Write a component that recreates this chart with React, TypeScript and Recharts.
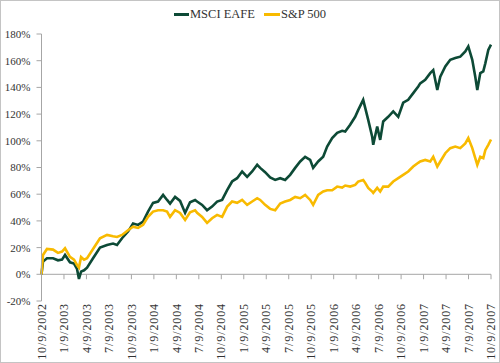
import React from 'react';
import { LineChart, Line, XAxis, YAxis, ReferenceLine, Legend } from 'recharts';

// months since 10/9/2002
const months = [0, 0.2, 0.73, 1.54, 2.2, 2.74, 3.14, 3.8, 4.34, 4.74, 5.0, 5.28, 5.68, 6.08, 6.88, 7.81, 8.75, 9.55, 10.08, 10.75, 11.55, 12.22, 12.89, 13.56, 14.22, 14.89, 15.56, 16.23, 16.76, 17.16, 17.83, 18.5, 19.17, 19.83, 20.5, 20.77, 21.44, 22.1, 22.77, 23.44, 24.11, 24.78, 25.44, 26.11, 26.78, 27.45, 28.12, 28.79, 29.19, 29.85, 30.52, 31.19, 31.86, 32.52, 33.19, 33.86, 34.53, 35.19, 35.86, 36.26, 36.93, 37.6, 38.13, 38.8, 39.47, 40.13, 40.54, 41.2, 41.87, 42.27, 42.94, 43.21, 43.61, 44.14, 44.28, 44.81, 45.21, 45.61, 46.28, 46.95, 47.62, 48.28, 48.95, 49.62, 50.29, 50.55, 51.22, 51.89, 52.29, 52.83, 53.23, 53.9, 54.56, 55.23, 55.9, 56.57, 56.97, 57.5, 57.9, 58.17, 58.57, 58.97, 59.24, 59.64, 60];
const eafe = [0, 9.5, 12, 12, 10.5, 11, 14.5, 9, 8, 4, -3.5, 2, 3, 5, 12, 20, 22, 23, 22, 27, 32, 38, 37, 39.5, 47, 53.5, 54.5, 59.5, 55.7, 53, 58, 55, 46, 54, 55.7, 54.5, 52, 48, 50.7, 54.5, 55.7, 63, 69.5, 72, 77, 73, 77, 82, 79.7, 76.5, 72.5, 70.7, 72, 70.7, 74.5, 79.7, 84.5, 88, 85.7, 79.7, 84.5, 88, 95.7, 102, 106, 107.5, 107, 112, 118, 123, 130.7, 124.7, 115.7, 103, 97, 110.7, 100.7, 114.5, 118, 122, 118, 128.5, 130.7, 135.7, 140.7, 143, 145.7, 150.7, 153, 138, 148, 155.7, 160.7, 162, 163, 167, 170.7, 160.7, 148, 138, 150.7, 152, 158, 168, 172];
const sp500 = [0, 14.5, 19, 18.5, 16, 17, 19.5, 13, 11, 7, 5, 13, 11, 12, 19, 27, 29.5, 28.5, 28, 29.5, 33, 35.7, 34.7, 37, 43, 47, 48, 48, 47, 43, 48, 46, 40.7, 46.5, 48, 46, 43, 38.5, 42, 44.5, 43, 50.7, 54.5, 53.5, 55.7, 52, 54.5, 57, 55.7, 52, 49, 48, 53, 54.5, 55.7, 58, 57, 59.5, 55.7, 52, 59.5, 62, 63, 63, 65.7, 65, 66.5, 65.7, 67, 69.5, 70.7, 68.5, 64.7, 62, 61, 64.7, 62, 65.7, 65.7, 69.5, 72, 74.5, 77, 80.7, 83.5, 84.5, 85.7, 84.5, 88, 80.7, 84.5, 90.7, 94.5, 95.7, 94.5, 98, 102, 94.5, 87, 82, 88, 87, 93, 97, 101];

const tickMonths = [0, 3, 6, 9, 12, 15, 18, 21, 24, 27, 30, 33, 36, 39, 42, 45, 48, 51, 54, 57, 60];
const tickLabels = ['10/9/2002', '1/9/2003', '4/9/2003', '7/9/2003', '10/9/2003', '1/9/2004', '4/9/2004', '7/9/2004', '10/9/2004', '1/9/2005', '4/9/2005', '7/9/2005', '10/9/2005', '1/9/2006', '4/9/2006', '7/9/2006', '10/9/2006', '1/9/2007', '4/9/2007', '7/9/2007', '10/9/2007'];
const yTicks = [-20, 0, 20, 40, 60, 80, 100, 120, 140, 160, 180];

const seriesNames = ['MSCI EAFE', 'S&P 500'];
const GREEN = '#0d4a36';
const GOLD = '#f8ba00';
const AXIS = '#a6a6a6';
const TEXT = '#333333';
const FONT = '"Liberation Serif", "Times New Roman", serif';

const data = months.map((m, i) => ({ m, eafe: eafe[i], sp: sp500[i] }));

const XTick = (props: any) => {
  const { x, y, payload } = props;
  const idx = tickMonths.indexOf(payload.value);
  const label = idx >= 0 ? tickLabels[idx] : '';
  return (
    <text
      x={x}
      y={y}
      transform={`rotate(-90 ${x} ${y})`}
      textAnchor="end"
      dy="0.35em"
      fontSize={12}
      letterSpacing={0.9}
      fontFamily={FONT}
      fill={TEXT}
    >
      {label}
    </text>
  );
};

const renderLegend = () => (
  <div style={{ display: 'flex', justifyContent: 'center', alignItems: 'center', fontFamily: FONT, fontSize: 12.5, color: TEXT }}>
    <span style={{ display: 'inline-block', width: 15, height: 3, background: GREEN, marginRight: 1 }} />
    <span style={{ marginRight: 9 }}>{seriesNames[0]}</span>
    <span style={{ display: 'inline-block', width: 16, height: 3, background: GOLD, marginRight: 1 }} />
    <span>{seriesNames[1]}</span>
  </div>
);

export default function App() {
  return (
    <div
      style={{
        position: 'absolute',
        left: 0,
        top: 0,
        width: 500,
        height: 363,
        boxSizing: 'border-box',
        border: '1px solid #c4c4c4',
        background: '#fff',
      }}
    >
      <LineChart width={498} height={361} data={data} margin={{ top: 13, right: 8, left: 0, bottom: 0 }}>
        <Legend verticalAlign="top" height={20} content={renderLegend} wrapperStyle={{ top: 6, left: 0, width: 498 }} />
        <XAxis
          dataKey="m"
          type="number"
          domain={[0, 60]}
          ticks={tickMonths}
          interval={0}
          axisLine={false}
          tickLine={false}
          tickSize={0}
          tickMargin={2}
          height={61}
          tick={<XTick />}
        />
        <YAxis
          type="number"
          domain={[-20, 180]}
          ticks={yTicks}
          interval={0}
          width={40.5}
          tickFormatter={(v: number) => `${v}%`}
          axisLine={{ stroke: AXIS }}
          tickLine={{ stroke: AXIS }}
          tickSize={5}
          tickMargin={6}
          tick={{ fontSize: 11, fontFamily: FONT, fill: TEXT }}
        />
        <ReferenceLine y={0} stroke={AXIS} />
        {tickMonths.map((t) => (
          <ReferenceLine
            key={t}
            segment={[{ x: t, y: 0 }, { x: t, y: -3.7 }]}
            stroke={AXIS}
          />
        ))}
        <Line type="linear" dataKey="eafe" stroke={GREEN} strokeWidth={2.6} dot={false} isAnimationActive={false} />
        <Line type="linear" dataKey="sp" stroke={GOLD} strokeWidth={2.6} dot={false} isAnimationActive={false} />
      </LineChart>
    </div>
  );
}
